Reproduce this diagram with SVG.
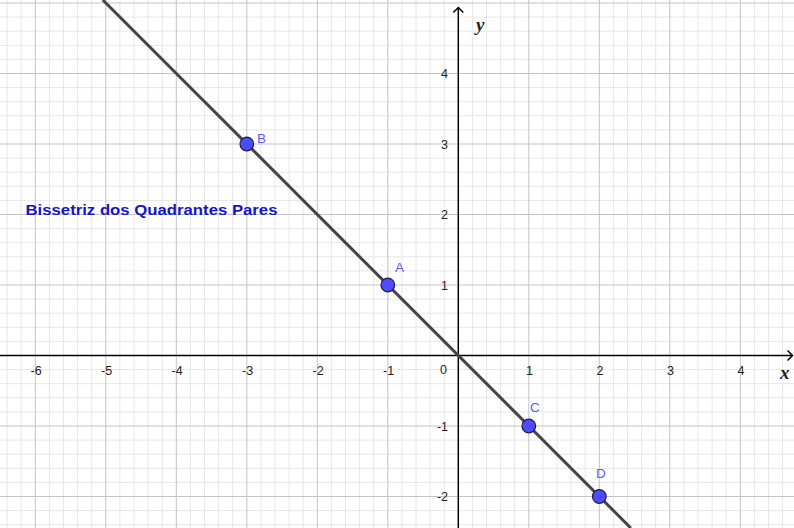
<svg xmlns="http://www.w3.org/2000/svg" width="794" height="528" viewBox="0 0 794 528">
<style>
.minor{stroke:#e6e6e6;stroke-width:1;fill:none}
.major{stroke:#c4c4c4;stroke-width:1;fill:none}
.axis{stroke:#000;stroke-width:1.5;fill:none}
.tick{font-family:"Liberation Sans",Arial,sans-serif;font-size:12.5px;fill:#222}
.axlab{font-family:"Liberation Serif","Times New Roman",serif;font-size:19px;font-style:italic;font-weight:bold;fill:#222}
.pt{fill:#4d4dff;stroke:#1a1a4d;stroke-width:1.2}
.plab{font-family:"Liberation Sans",Arial,sans-serif;font-size:13.5px;fill:#5c5cff}
.title{font-family:"Liberation Sans",Arial,sans-serif;font-size:15px;font-weight:bold;fill:#1414c8}
</style>
<rect width="794" height="528" fill="#fff"/>
<g id="grid">
<path class="minor" d="M7.1 0V528M21.2 0V528M49.4 0V528M63.5 0V528M77.6 0V528M91.7 0V528M119.9 0V528M134 0V528M148.1 0V528M162.2 0V528M190.4 0V528M204.5 0V528M218.6 0V528M232.7 0V528M260.9 0V528M275 0V528M289.1 0V528M303.2 0V528M331.4 0V528M345.5 0V528M359.6 0V528M373.7 0V528M401.9 0V528M416 0V528M430.1 0V528M444.2 0V528M472.4 0V528M486.5 0V528M500.6 0V528M514.7 0V528M542.9 0V528M557 0V528M571.1 0V528M585.2 0V528M613.4 0V528M627.5 0V528M641.6 0V528M655.7 0V528M683.9 0V528M698 0V528M712.1 0V528M726.2 0V528M754.4 0V528M768.5 0V528M782.6 0V528
M0 17.1H794M0 31.2H794M0 45.3H794M0 59.4H794M0 87.6H794M0 101.7H794M0 115.8H794M0 129.9H794M0 158.1H794M0 172.2H794M0 186.3H794M0 200.4H794M0 228.6H794M0 242.7H794M0 256.8H794M0 270.9H794M0 299.1H794M0 313.2H794M0 327.3H794M0 341.4H794M0 369.6H794M0 383.7H794M0 397.8H794M0 411.9H794M0 440.1H794M0 454.2H794M0 468.3H794M0 482.4H794M0 510.6H794M0 524.7H794"/>
<path class="major" d="M35.3 0V528M105.8 0V528M176.3 0V528M246.8 0V528M317.3 0V528M387.8 0V528M528.8 0V528M599.3 0V528M669.8 0V528M740.3 0V528M0 3H794M0 73.5H794M0 144H794M0 214.5H794M0 285H794M0 426H794M0 496.5H794"/>
</g>
<g id="axes">
<path class="axis" d="M0 355.5H792.5M787.5 350.5L792.5 355.5L787.5 360.5"/>
<path class="axis" d="M458.3 528V7.5M453.3 12.5L458.3 7.5L463.3 12.5"/>
<text class="axlab" x="780" y="379">x</text>
<text class="axlab" x="476" y="31">y</text>
</g>
<g id="ticks">
<text class="tick" x="30.5" y="374.5">-6</text>
<text class="tick" x="101" y="374.5">-5</text>
<text class="tick" x="171.5" y="374.5">-4</text>
<text class="tick" x="242" y="374.5">-3</text>
<text class="tick" x="312.5" y="374.5">-2</text>
<text class="tick" x="383" y="374.5">-1</text>
<text class="tick" x="447" y="374" text-anchor="end">0</text>
<text class="tick" x="529.5" y="374.5" text-anchor="middle">1</text>
<text class="tick" x="600" y="374.5" text-anchor="middle">2</text>
<text class="tick" x="670.5" y="374.5" text-anchor="middle">3</text>
<text class="tick" x="741" y="374.5" text-anchor="middle">4</text>
<text class="tick" x="448" y="78" text-anchor="end">4</text>
<text class="tick" x="448" y="148.5" text-anchor="end">3</text>
<text class="tick" x="448" y="219" text-anchor="end">2</text>
<text class="tick" x="448" y="289.5" text-anchor="end">1</text>
<text class="tick" x="448" y="430.5" text-anchor="end">-1</text>
<text class="tick" x="448" y="501" text-anchor="end">-2</text>
</g>
<g id="connectors">
<line id="bisector" x1="102.8" y1="0" x2="630.8" y2="528" stroke="#444" stroke-width="3"/>
</g>
<g id="title">
<text class="title" x="25.5" y="214.5" textLength="252" lengthAdjust="spacingAndGlyphs">Bissetriz dos Quadrantes Pares</text>
</g>
<g id="B"><circle class="pt" cx="246.8" cy="144" r="6.8"/><text class="plab" x="257" y="142.5">B</text></g>
<g id="A"><circle class="pt" cx="387.8" cy="285" r="6.8"/><text class="plab" x="395" y="272">A</text></g>
<g id="C"><circle class="pt" cx="528.8" cy="426" r="6.8"/><text class="plab" x="530" y="411.5">C</text></g>
<g id="D"><circle class="pt" cx="599.3" cy="496.5" r="6.8"/><text class="plab" x="596" y="478">D</text></g>
</svg>
